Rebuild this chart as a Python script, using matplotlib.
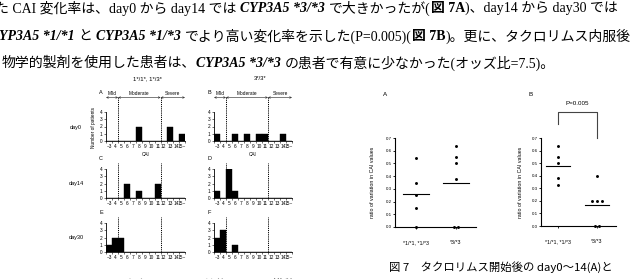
import matplotlib
matplotlib.use('Agg')
import matplotlib.pyplot as plt
import numpy as np

W, H = 632, 279
fig = plt.figure(figsize=(6.32, 2.79), dpi=100)
fig.patch.set_facecolor('white')

# ---------------- data ----------------
cai_labels = ['~3', '4', '5', '6', '7', '8', '9', '10', '11', '12', '13', '14', '15~']
severity = ['Mild', 'Moderate', 'Severe']
severity_bounds = [-0.5, 1.5, 8.5, 12.5]   # category-index boundaries (CAI <=4, 5-11, >=12)

hist_day0_a = [0, 0, 0, 0, 0, 2, 0, 0, 0, 0, 2, 0, 1]   # A  1*/1*, 1*/3*
hist_day0_b = [1, 0, 0, 1, 0, 1, 0, 1, 1, 0, 0, 1, 0]   # B  3*/3*
hist_day14_a = [0, 0, 0, 2, 0, 1, 0, 0, 2, 0, 0, 0, 0]  # C
hist_day14_b = [1, 0, 4, 1, 0, 0, 0, 0, 0, 0, 0, 0, 0]  # D
hist_day30_a = [1, 2, 2, 0, 0, 0, 0, 0, 0, 0, 0, 0, 0]  # E
hist_day30_b = [2, 3, 0, 1, 0, 0, 0, 0, 0, 0, 0, 0, 0]  # F

group_labels = ['*1/*1, *1/*3', '*3/*3']
ratio_A_g1 = [0.54, 0.35, 0.25, 0.15, 0.00]
ratio_A_g2 = [0.64, 0.55, 0.50, 0.38, 0.00, 0.00]
ratio_B_g1 = [0.64, 0.55, 0.50, 0.38, 0.33]
ratio_B_g2 = [0.40, 0.20, 0.20, 0.20, 0.00, 0.00]
p_text = 'P=0.005'

# ---------------- helpers ----------------
def box(x0, y0, x1, y1):
    return [x0 / W, 1 - y1 / H, (x1 - x0) / W, (y1 - y0) / H]

def ftext(x, y, s, **kw):
    return fig.text(x / W, 1 - y / H, s, **kw)

renderer = fig.canvas.get_renderer()
JP = dict(family=['Liberation Serif', 'Noto Sans CJK JP'])
IT = dict(family=['Liberation Serif', 'Noto Sans CJK JP'], style='italic', weight='bold')
BD = dict(family=['Liberation Serif', 'Noto Sans CJK JP'], weight='bold')

def segments(x, y, segs, size=10):
    for seg in segs:
        if isinstance(seg, (int, float)):
            x += seg
            continue
        s, st = seg
        t = ftext(x, y, s, fontsize=size, va='center_baseline', ha='left', **st)
        x += t.get_window_extent(renderer).width

# ---------------- body text ----------------
segments(-5, 7, [("た CAI 変化率は、day0 から day14 では", JP), 4, ("CYP3A5 *3/*3", IT), 4,
                 ("で大きかったが(", JP), ("図 7A", BD), (")、day14 から day30 では", JP)])
segments(-1, 35, [("YP3A5 *1/*1", IT), 4, ("と", JP), 4, ("CYP3A5 *1/*3", IT), 4,
                  ("でより高い変化率を示した(P=0.005)(", JP), ("図 7B", BD), (")。更に、タクロリムス内服後", JP)])
segments(2, 62, [("物学的製剤を使用した患者は、", JP), ("CYP3A5 *3/*3", IT), 4,
                 ("の患者で有意に少なかった(オッズ比=7.5)。", JP)])

# ---------------- histograms ----------------
SF = ['Liberation Sans', 'DejaVu Sans']
fs_small = 3.4

def hist_ax(x0, y0, x1, y1, vals, letter, dash_top, arrows=False, cai=False):
    ax = fig.add_axes(box(x0, y0, x1, y1))
    idx = np.arange(len(vals))
    ax.bar(idx, vals, width=1.0, color='black', edgecolor='black', linewidth=0.3)
    ax.set_xlim(-0.5, 12.5)
    ax.set_ylim(0, 4)
    for sp in ['top', 'right']:
        ax.spines[sp].set_visible(False)
    for sp in ['left', 'bottom']:
        ax.spines[sp].set_linewidth(0.6)
    ax.set_yticks(range(5))
    ax.set_yticklabels([str(i) for i in range(5)], fontsize=fs_small, family=SF)
    ax.set_xticks(idx)
    ax.set_xticklabels(cai_labels, fontsize=fs_small, family=SF)
    ax.set_xticks(np.arange(-0.5, 13, 1), minor=True)
    ax.tick_params(axis='x', which='major', length=0, pad=2.5)
    ax.tick_params(axis='x', which='minor', length=1.5, width=0.4)
    ax.tick_params(axis='y', length=1.5, width=0.4, pad=1.2)
    ppu = (y1 - y0) / 4.0
    def yd(py):
        return 4 + (y0 - py) / ppu
    for b in severity_bounds[1:3]:
        ax.plot([b, b], [0, yd(dash_top)], color='black', lw=0.7, ls=(0, (1.2, 1.0)),
                clip_on=False)
    if arrows:
        ya = yd(97.5)
        for i, name in enumerate(severity):
            a, b = severity_bounds[i], severity_bounds[i + 1]
            ax.annotate('', xy=(b, ya), xytext=(a, ya),
                        arrowprops=dict(arrowstyle='<->', lw=0.45, mutation_scale=3,
                                        shrinkA=0, shrinkB=0, color='#333333'),
                        annotation_clip=False)
            ax.text((a + b) / 2, yd(93.5), name, fontsize=fs_small, family=SF,
                    ha='center', va='center', clip_on=False)
    if cai:
        ax.text(6, yd(154), 'CAI', fontsize=fs_small, family=SF, ha='center', va='center')
    ftext(x0 - 5, y0 - 20 if arrows else y0 - 11, letter, fontsize=4, family=SF,
          ha='center', va='center')
    return ax

hist_ax(106, 112, 185, 141, hist_day0_a, 'A', 97, arrows=True, cai=True)
hist_ax(214, 112, 292, 141, hist_day0_b, 'B', 97, arrows=True, cai=True)
hist_ax(106, 169, 185, 198, hist_day14_a, 'C', 163)
hist_ax(214, 169, 292, 198, hist_day14_b, 'D', 163)
hist_ax(106, 223, 185, 252, hist_day30_a, 'E', 217)
hist_ax(214, 223, 292, 252, hist_day30_b, 'F', 217)

ftext(147, 79, '1*/1*, 1*/3*', fontsize=4.2, family=SF, ha='center', va='center')
ftext(260, 79, '3*/3*', fontsize=4.2, family=SF, ha='center', va='center')
ftext(76, 127, 'day0', fontsize=4, family=SF, ha='center', va='center')
ftext(76, 183, 'day14', fontsize=4, family=SF, ha='center', va='center')
ftext(76, 238, 'day30', fontsize=4, family=SF, ha='center', va='center')
ftext(94, 128, 'Number of patients', fontsize=3.4, family=SF, ha='center', va='center',
      rotation=90)

# ---------------- scatter plots ----------------
def swarm(vals, pos, spacing=0.12):
    vals = np.asarray(vals)
    xs = np.full(len(vals), float(pos))
    for v in np.unique(vals):
        ii = np.where(vals == v)[0]
        n = len(ii)
        xs[ii] = pos + (np.arange(n) - (n - 1) / 2) * spacing
    return xs

def scatter_ax(x0, y0, x1, y1, g1, g2, xlim, letter, ylab_x):
    ax = fig.add_axes(box(x0, y0, x1, y1))
    for i, vals in enumerate([g1, g2]):
        pos = i + 1
        ax.scatter(swarm(vals, pos), vals, s=4.5, color='black', zorder=3,
                   clip_on=False, linewidths=0)
        m = np.mean(vals)
        ax.plot([pos - 0.32, pos + 0.32], [m, m], color='black', lw=0.8)
    ax.set_xlim(*xlim)
    ax.set_ylim(0, 0.7)
    for sp in ['top', 'right']:
        ax.spines[sp].set_visible(False)
    for sp in ['left', 'bottom']:
        ax.spines[sp].set_linewidth(0.8)
    yt = np.arange(0, 0.71, 0.1)
    ax.set_yticks(yt)
    ax.set_yticklabels(['%.1f' % v for v in yt], fontsize=3.2, family=SF)
    ax.set_xticks([1, 2])
    ax.set_xticklabels(group_labels, fontsize=3.8, family=SF)
    ax.tick_params(axis='y', length=1.5, width=0.6, pad=1)
    ax.tick_params(axis='x', length=1.5, width=0.6, pad=8)
    ftext(ylab_x, (y0 + y1) / 2, 'ratio of variation in CAI values', fontsize=3.8,
          family=SF, rotation=90, ha='center', va='center')
    ftext(x0 - 10, 95, letter, fontsize=4.5, family=SF, ha='center', va='center')
    return ax

scatter_ax(395, 138, 476, 227, ratio_A_g1, ratio_A_g2, (0.475, 2.5), 'A', 373)
axB = scatter_ax(541, 138, 616, 226, ratio_B_g1, ratio_B_g2, (0.564, 2.487), 'B', 520)
axB.plot([1, 1, 2, 2], [0.81, 0.905, 0.905, 0.70], color='#444444', lw=0.8, clip_on=False)
axB.text(1.5, 0.975, p_text, fontsize=4.5, family=SF, ha='center', va='center')

# ---------------- captions ----------------
ftext(389, 267, '図 7　タクロリムス開始後の day0～14(A)と', fontsize=8.2,
      family=['Noto Sans CJK JP', 'DejaVu Sans'], ha='left', va='center')
ftext(93, 284, '図 6　タクロリムス開始後の CAI の推移', fontsize=8.2,
      family=['Noto Sans CJK JP', 'DejaVu Sans'], ha='left', va='center', color='#555555')

fig.savefig('out.png', dpi=100, facecolor='white')
